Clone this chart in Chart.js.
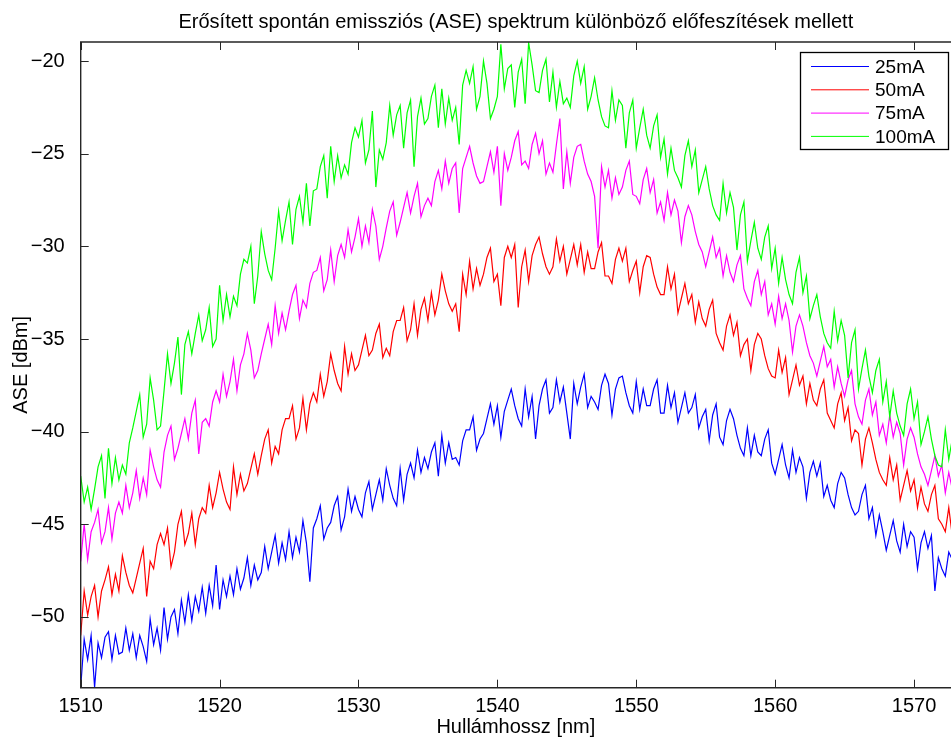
<!DOCTYPE html>
<html>
<head>
<meta charset="utf-8">
<title>ASE spektrum</title>
<script src="https://cdn.jsdelivr.net/npm/chart.js@4.4.1/dist/chart.umd.min.js"></script>
<style>
  html, body { margin: 0; padding: 0; background: #fff; overflow: hidden; }
</style>
</head>
<body>
<canvas id="chart" width="951" height="737"></canvas>
<script>
'use strict';

// sampling grid of the spectrum analyser: from 1510 nm, every 0.25 nm
var WL_START = 1510;
var WL_STEP = 0.25;

var X_TICKS = [1510, 1520, 1530, 1540, 1550, 1560, 1570];
var Y_TICKS = [-50, -45, -40, -35, -30, -25, -20];

var LABELS = ['25mA', '50mA', '75mA', '100mA'];
var COLORS = ['#0000ff', '#ff0000', '#ff00ff', '#00ff00'];

// ASE [dBm], 4 samples per nm (two nm per line)
var ase25 = [
  -53.8, -51.2, -52.3, -51.0, -53.8, -51.4, -52.2, -51.1,
  -50.8, -52.3, -51.0, -52.0, -51.9, -50.6, -51.8, -50.9,
  -52.2, -51.0, -51.6, -52.4, -50.1, -51.5, -50.6, -51.8,
  -49.5, -51.2, -50.0, -49.6, -50.9, -49.1, -50.3, -48.8,
  -50.2, -48.9, -49.7, -48.4, -49.8, -48.3, -49.4, -47.2,
  -49.6, -48.0, -48.9, -47.8, -48.8, -47.4, -48.5, -47.9,
  -46.8, -48.3, -47.2, -48.0, -47.6, -46.2, -47.4, -46.5,
  -45.6, -47.1, -46.0, -46.9, -45.4, -46.8, -45.7, -46.5,
  -44.8, -46.0, -48.1, -45.2, -44.7, -44.0, -45.8, -45.2,
  -44.9, -44.0, -43.5, -45.3, -44.6, -43.1, -44.3, -43.5,
  -44.2, -44.6, -43.3, -42.7, -44.2, -43.4, -42.6, -43.7,
  -42.0, -42.9, -43.6, -44.0, -42.0, -43.7, -42.3, -41.7,
  -42.5, -41.0, -42.2, -41.4, -42.0, -41.1, -40.6, -42.4,
  -40.2, -41.7, -40.6, -41.5, -41.4, -41.8, -40.5, -39.9,
  -39.9, -39.2, -41.0, -40.4, -40.1, -39.3, -38.5, -39.6,
  -38.6, -40.3, -38.9, -38.3, -37.7, -38.6, -39.3, -39.7,
  -37.7, -39.2, -38.1, -40.4, -38.6, -37.7, -37.2, -39.0,
  -38.7, -37.2, -38.4, -37.6, -39.0, -40.4, -37.4, -38.5,
  -37.6, -36.9, -38.7, -38.1, -38.4, -38.8, -37.5, -36.9,
  -37.4, -39.1, -37.7, -37.1, -37.0, -37.9, -38.6, -39.0,
  -37.3, -38.8, -37.7, -38.6, -38.6, -37.7, -37.2, -39.0,
  -39.0, -37.5, -38.7, -37.9, -39.5, -38.7, -37.9, -39.0,
  -38.7, -38.0, -39.8, -39.2, -38.8, -40.5, -39.1, -38.5,
  -40.3, -40.7, -39.4, -38.8, -39.3, -40.2, -40.9, -41.3,
  -39.8, -41.3, -40.2, -41.1, -41.3, -40.4, -39.9, -41.7,
  -42.3, -41.5, -40.7, -41.8, -42.5, -41.0, -42.2, -41.4,
  -41.9, -43.6, -42.2, -41.6, -42.4, -41.7, -43.5, -42.9,
  -43.7, -44.1, -42.8, -42.2, -42.5, -43.4, -44.1, -44.5,
  -44.3, -43.4, -42.9, -44.7, -44.1, -45.6, -44.5, -45.4,
  -46.4, -45.6, -44.8, -45.9, -46.5, -45.0, -46.2, -45.4,
  -45.7, -47.4, -46.0, -45.4, -46.3, -45.6, -48.6, -46.8,
  -47.4, -47.8, -46.5, -46.9
];

var ase50 = [
  -51.0, -48.6, -49.9, -48.9, -48.3, -50.0, -48.6, -48.0,
  -47.3, -48.8, -47.7, -48.6, -46.7, -47.6, -48.3, -48.7,
  -47.9, -47.1, -46.3, -48.9, -47.0, -47.4, -46.1, -45.5,
  -46.1, -45.2, -47.3, -46.5, -45.0, -44.3, -46.1, -45.5,
  -44.4, -46.1, -44.7, -44.1, -44.4, -42.9, -44.1, -43.3,
  -42.2, -43.1, -43.8, -44.2, -41.9, -43.4, -42.3, -43.2,
  -42.8, -42.0, -41.2, -42.3, -41.3, -40.4, -39.9, -41.7,
  -40.8, -41.2, -39.9, -39.3, -39.3, -38.6, -40.4, -39.8,
  -38.2, -39.9, -38.5, -37.9, -38.4, -36.9, -38.1, -37.3,
  -35.8, -36.7, -37.4, -37.8, -35.4, -36.9, -35.8, -36.7,
  -36.4, -35.6, -34.8, -35.9, -35.6, -34.7, -34.2, -36.0,
  -35.5, -35.9, -34.6, -34.0, -34.0, -33.3, -35.1, -34.5,
  -33.1, -34.8, -33.4, -32.8, -34.0, -32.5, -33.7, -32.9,
  -31.5, -32.4, -33.1, -33.5, -33.1, -34.6, -31.5, -32.6,
  -30.8, -32.3, -31.2, -32.1, -31.5, -30.6, -30.1, -31.9,
  -31.5, -33.2, -30.6, -30.0, -30.6, -29.9, -33.3, -31.1,
  -30.2, -31.9, -30.5, -29.9, -29.5, -30.4, -31.1, -31.5,
  -31.1, -29.6, -30.8, -30.0, -31.5, -30.7, -29.9, -31.0,
  -29.9, -31.4, -30.3, -31.2, -31.2, -30.3, -29.8, -31.6,
  -31.6, -32.0, -30.7, -30.1, -30.8, -30.1, -31.9, -31.3,
  -30.8, -32.5, -31.1, -30.5, -30.6, -31.5, -32.2, -32.6,
  -32.6, -31.1, -32.3, -31.5, -33.6, -32.8, -32.0, -33.1,
  -32.6, -34.1, -33.0, -33.9, -34.3, -33.4, -32.9, -34.7,
  -35.2, -35.6, -34.3, -33.7, -34.8, -34.1, -35.9, -35.3,
  -35.0, -36.7, -35.3, -34.7, -35.0, -35.9, -36.6, -37.0,
  -37.1, -35.6, -36.8, -36.0, -38.0, -37.2, -36.4, -37.5,
  -37.0, -38.5, -37.4, -38.3, -38.6, -37.7, -37.2, -39.0,
  -39.4, -39.8, -38.5, -37.9, -39.4, -38.7, -40.5, -39.9,
  -40.1, -41.8, -40.4, -39.8, -40.6, -41.5, -42.2, -42.6,
  -42.9, -41.4, -42.6, -41.8, -43.7, -42.9, -42.1, -43.2,
  -42.6, -44.1, -43.0, -43.9, -44.3, -43.4, -42.9, -44.7,
  -45.0, -45.4, -44.1, -45.6
];

var ase75 = [
  -47.0, -45.0, -46.9, -45.4, -44.9, -44.2, -46.0, -45.4,
  -44.1, -45.8, -44.4, -43.8, -44.4, -42.9, -44.1, -43.3,
  -42.1, -43.6, -42.5, -43.4, -41.0, -41.9, -42.6, -43.0,
  -41.1, -40.2, -39.7, -41.5, -40.9, -40.1, -39.3, -40.4,
  -39.0, -38.3, -41.2, -39.5, -39.3, -39.7, -38.4, -37.8,
  -38.4, -36.9, -38.1, -37.3, -36.1, -37.8, -36.4, -35.8,
  -34.7, -35.6, -37.1, -36.7, -35.8, -35.0, -34.2, -35.3,
  -33.2, -34.7, -33.6, -34.5, -33.5, -32.6, -32.1, -33.9,
  -32.9, -33.3, -32.0, -31.4, -31.3, -30.6, -32.4, -31.8,
  -30.2, -31.9, -30.5, -29.9, -30.6, -29.1, -30.3, -29.5,
  -28.5, -30.0, -28.9, -29.8, -28.0, -28.9, -30.7, -30.0,
  -29.0, -28.1, -27.6, -29.4, -28.7, -27.9, -27.1, -28.2,
  -27.3, -26.6, -28.4, -27.8, -27.4, -27.8, -26.5, -25.9,
  -26.9, -25.4, -26.6, -25.8, -25.5, -28.2, -25.8, -25.2,
  -24.6, -25.5, -26.2, -26.6, -26.5, -25.7, -24.9, -26.0,
  -24.6, -27.8, -25.0, -25.9, -25.2, -24.3, -23.8, -25.6,
  -25.4, -25.8, -24.5, -23.9, -25.0, -24.3, -26.1, -25.5,
  -26.0, -24.5, -23.1, -26.9, -24.9, -26.6, -25.2, -24.6,
  -24.5, -25.4, -26.1, -26.5, -27.3, -30.1, -25.7, -26.8,
  -25.9, -27.4, -26.3, -27.2, -26.8, -25.9, -25.4, -27.2,
  -27.3, -27.7, -26.4, -25.8, -27.1, -26.4, -28.2, -27.6,
  -28.6, -27.1, -28.3, -27.5, -28.1, -29.8, -28.4, -27.8,
  -28.3, -29.2, -29.9, -30.3, -31.1, -30.3, -29.5, -30.6,
  -30.1, -31.6, -30.5, -31.4, -31.9, -31.0, -30.5, -32.3,
  -32.8, -33.2, -31.9, -31.3, -32.6, -31.9, -33.7, -33.1,
  -34.2, -32.7, -33.9, -33.1, -34.0, -35.7, -34.3, -33.7,
  -34.3, -35.2, -35.9, -36.3, -37.0, -36.2, -35.4, -36.5,
  -36.1, -37.6, -36.5, -37.4, -38.1, -37.2, -36.7, -38.5,
  -39.2, -39.6, -38.3, -37.7, -39.1, -38.4, -40.2, -39.6,
  -40.6, -39.1, -40.3, -39.5, -40.1, -41.8, -40.4, -39.8,
  -40.3, -41.2, -41.9, -42.3, -42.9, -42.1, -41.3, -42.4,
  -41.8, -43.3, -42.2, -43.1
];

var ase100 = [
  -42.4, -43.8, -43.0, -44.2, -43.1, -41.9, -41.3, -43.6,
  -40.9, -42.8, -41.4, -42.6, -41.8, -42.3, -40.6, -39.8,
  -38.9, -38.0, -40.3, -39.6, -37.1, -38.3, -39.9, -39.7,
  -37.8, -35.8, -37.4, -36.3, -34.9, -38.0, -35.3, -34.6,
  -35.8, -34.7, -33.7, -35.1, -34.5, -33.3, -35.4, -35.0,
  -32.1, -34.0, -32.6, -33.8, -32.7, -33.2, -31.5, -30.7,
  -30.9, -30.0, -33.1, -31.6, -29.2, -30.4, -31.3, -31.8,
  -30.1, -28.1, -29.7, -28.6, -27.6, -29.9, -28.0, -27.3,
  -28.7, -26.6, -28.9, -27.0, -26.9, -25.7, -25.1, -27.4,
  -24.6, -26.5, -25.1, -26.3, -25.6, -26.1, -24.4, -23.6,
  -24.1, -23.2, -25.5, -24.8, -22.7, -26.8, -24.8, -25.3,
  -24.4, -22.4, -24.0, -22.9, -22.4, -24.7, -22.8, -22.1,
  -25.7, -23.0, -22.0, -23.4, -23.1, -21.9, -21.3, -23.6,
  -21.5, -23.4, -22.0, -23.2, -22.5, -24.5, -21.3, -20.5,
  -21.2, -20.3, -22.6, -21.9, -20.0, -21.2, -23.1, -22.6,
  -21.9, -19.1, -21.5, -20.4, -20.2, -22.5, -20.6, -19.9,
  -22.3, -19.0, -20.2, -21.6, -21.7, -20.5, -19.9, -22.2,
  -20.6, -22.5, -21.1, -22.3, -22.0, -22.5, -20.8, -20.0,
  -21.2, -20.3, -22.6, -21.9, -20.9, -22.1, -23.0, -23.5,
  -23.6, -21.6, -23.2, -22.1, -22.4, -24.7, -22.8, -22.1,
  -24.7, -23.6, -22.6, -24.0, -24.7, -23.5, -22.9, -25.2,
  -24.2, -26.1, -24.7, -25.9, -26.3, -26.8, -25.1, -24.3,
  -25.7, -24.8, -27.1, -26.4, -25.7, -26.9, -27.8, -28.3,
  -28.6, -26.6, -28.2, -27.1, -27.9, -30.2, -28.3, -27.6,
  -30.8, -29.7, -28.7, -30.1, -30.7, -29.5, -28.9, -31.2,
  -30.1, -32.0, -30.6, -31.8, -32.6, -33.1, -31.4, -30.6,
  -32.5, -31.6, -33.9, -33.2, -32.6, -33.8, -34.7, -35.2,
  -35.5, -33.5, -35.1, -34.0, -34.8, -37.1, -35.2, -34.5,
  -37.7, -36.6, -35.6, -37.0, -37.9, -36.7, -36.1, -38.4,
  -37.3, -39.2, -37.8, -39.0, -39.7, -40.2, -38.5, -37.7,
  -39.3, -38.4, -40.7, -40.0, -39.2, -40.4, -41.3, -41.8,
  -41.9, -39.9, -41.5, -40.4
];

var SERIES = [ase25, ase50, ase75, ase100];

var FONT = '"Liberation Sans", Arial, Helvetica, sans-serif';
var TEXT = '#000';

function toPoints(values) {
  return values.map(function (v, i) {
    return { x: WL_START + i * WL_STEP, y: v };
  });
}

function plainLabel(v) {
  return String(v);
}

function minusLabel(v) {
  return v < 0 ? '\u2212' + Math.abs(v) : String(v);
}

// MATLAB style box with inward ticks
var axesBox = {
  id: 'axesBox',
  afterDatasetsDraw: function (chart) {
    var ctx = chart.ctx;
    var a = chart.chartArea;
    var xs = chart.scales.x;
    var ys = chart.scales.y;
    ctx.save();
    ctx.strokeStyle = '#262626';
    ctx.lineWidth = 1.4;
    ctx.beginPath();
    ctx.moveTo(a.right + 2, a.top);
    ctx.lineTo(a.left, a.top);
    ctx.lineTo(a.left, a.bottom);
    ctx.lineTo(a.right + 2, a.bottom);
    ctx.stroke();
    ctx.lineWidth = 1;
    ctx.beginPath();
    X_TICKS.forEach(function (v) {
      var px = Math.round(xs.getPixelForValue(v)) + 0.5;
      ctx.moveTo(px, a.bottom);
      ctx.lineTo(px, a.bottom - 8);
      ctx.moveTo(px, a.top);
      ctx.lineTo(px, a.top + 8);
    });
    Y_TICKS.forEach(function (v) {
      var py = Math.round(ys.getPixelForValue(v)) + 0.5;
      ctx.moveTo(a.left, py);
      ctx.lineTo(a.left + 8, py);
    });
    ctx.stroke();
    ctx.restore();
  }
};

var boxLegend = {
  id: 'boxLegend',
  afterDraw: function (chart) {
    var ctx = chart.ctx;
    var left = 800, top = 52, w = 149, h = 98;
    ctx.save();
    ctx.fillStyle = '#fff';
    ctx.fillRect(left, top, w, h);
    ctx.strokeStyle = '#000';
    ctx.lineWidth = 1.3;
    ctx.strokeRect(left + 0.5, top + 0.5, w - 1, h - 1);
    ctx.font = '19px ' + FONT;
    ctx.textBaseline = 'middle';
    ctx.textAlign = 'left';
    chart.data.datasets.forEach(function (ds, i) {
      var y = 66.5 + i * 23.3;
      ctx.strokeStyle = ds.borderColor;
      ctx.lineWidth = 1;
      ctx.beginPath();
      ctx.moveTo(811, y);
      ctx.lineTo(869, y);
      ctx.stroke();
      ctx.fillStyle = TEXT;
      ctx.fillText(ds.label, 875, y + 1);
    });
    ctx.restore();
  }
};

var datasets = SERIES.map(function (values, i) {
  return {
    label: LABELS[i],
    data: toPoints(values),
    borderColor: COLORS[i],
    backgroundColor: COLORS[i],
    borderWidth: 1.2,
    pointRadius: 0,
    tension: 0,
    fill: false,
    order: SERIES.length - i
  };
});

new Chart(document.getElementById('chart'), {
  type: 'line',
  data: { datasets: datasets },
  options: {
    responsive: false,
    animation: false,
    events: [],
    layout: { padding: 0 },
    plugins: {
      legend: { display: false },
      tooltip: { enabled: false },
      title: {
        display: true,
        fullSize: false,
        text: 'Erősített spontán emissziós (ASE) spektrum különböző előfeszítések mellett',
        color: TEXT,
        font: { family: FONT, size: 20, weight: 'normal', lineHeight: 1.2 },
        padding: { top: 10, bottom: 8 }
      }
    },
    scales: {
      x: {
        type: 'linear',
        min: 1510,
        max: 1572.66,
        afterFit: function (s) { s.height = 49.3; },
        afterBuildTicks: function (s) {
          s.ticks = X_TICKS.map(function (v) { return { value: v }; });
        },
        grid: { display: false, drawTicks: false },
        border: { display: false },
        ticks: {
          color: TEXT,
          font: { family: FONT, size: 20 },
          padding: 7,
          maxRotation: 0,
          autoSkip: false,
          callback: plainLabel
        },
        title: {
          display: true,
          text: 'Hullámhossz [nm]',
          color: TEXT,
          font: { family: FONT, size: 20, lineHeight: 1 },
          padding: 0
        }
      },
      y: {
        type: 'linear',
        min: -53.82,
        max: -18.97,
        afterFit: function (s) { s.width = 80.7; },
        afterBuildTicks: function (s) {
          s.ticks = Y_TICKS.map(function (v) { return { value: v }; });
        },
        grid: { display: false, drawTicks: false },
        border: { display: false },
        ticks: {
          color: TEXT,
          font: { family: FONT, size: 20 },
          padding: 16,
          autoSkip: false,
          callback: minusLabel
        },
        title: {
          display: true,
          text: 'ASE [dBm]',
          color: TEXT,
          font: { family: FONT, size: 20, lineHeight: 1 },
          padding: { top: 11, bottom: 0 }
        }
      }
    }
  },
  plugins: [axesBox, boxLegend]
});
</script>
</body>
</html>
